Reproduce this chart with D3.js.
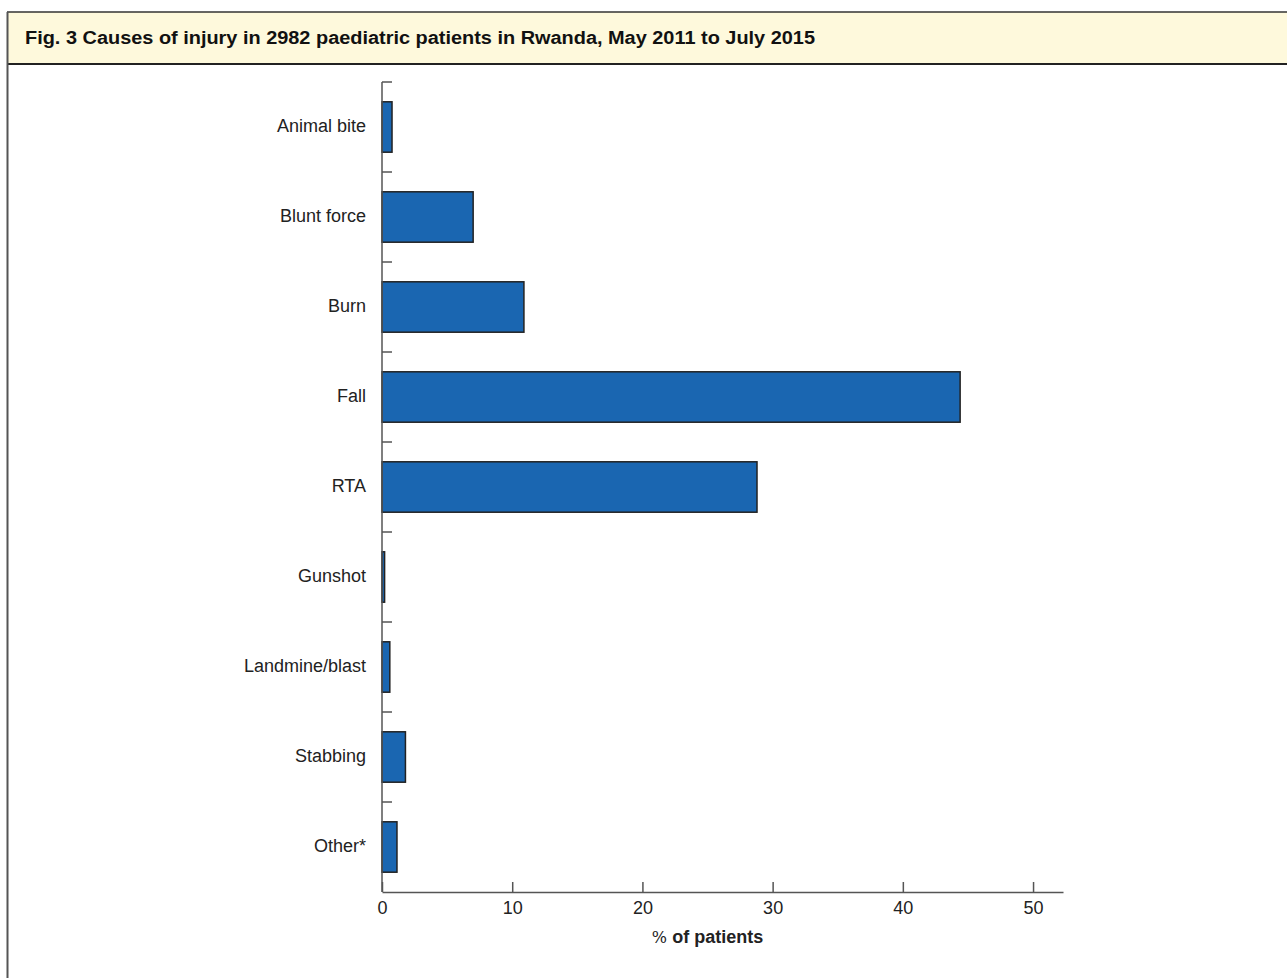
<!DOCTYPE html>
<html>
<head>
<meta charset="utf-8">
<script src="https://cdn.jsdelivr.net/npm/d3@7"></script>
<style>
  html, body { margin: 0; padding: 0; background: #fff; }
  svg { display: block; }
</style>
</head>
<body>
<svg id="chart" width="1287" height="978"></svg>
<script>
const categories = ["Animal bite", "Blunt force", "Burn", "Fall", "RTA", "Gunshot", "Landmine/blast", "Stabbing", "Other*"];
const values = [0.77, 7.0, 10.9, 44.4, 28.8, 0.2, 0.6, 1.8, 1.15];
const xTicks = [0, 10, 20, 30, 40, 50];
const title = "Fig. 3 Causes of injury in 2982 paediatric patients in Rwanda, May 2011 to July 2015";
const xLabel = "of patients";

const svg = d3.select("#chart");
const W = 1287, H = 978;
const FONT = "Liberation Sans, Arial, sans-serif";

// Frame & header
svg.append("rect").attr("x", 7).attr("y", 12).attr("width", W + 10).attr("height", 52)
  .attr("fill", "#fef9dc");
svg.append("line").attr("x1", 7).attr("x2", W).attr("y1", 12).attr("y2", 12)
  .attr("stroke", "#333").attr("stroke-width", 1.5);
svg.append("line").attr("x1", 7).attr("x2", W).attr("y1", 64).attr("y2", 64)
  .attr("stroke", "#222").attr("stroke-width", 2);
svg.append("line").attr("x1", 7.5).attr("x2", 7.5).attr("y1", 12).attr("y2", H)
  .attr("stroke", "#555").attr("stroke-width", 2);
svg.append("text").attr("x", 25).attr("y", 44)
  .attr("font-family", FONT)
  .attr("font-weight", "bold").attr("font-size", 18)
  .attr("fill", "#111")
  .attr("textLength", 790).attr("lengthAdjust", "spacingAndGlyphs")
  .text(title);

const x = d3.scaleLinear().domain([0, 52.3]).range([382, 1063]);
const y = d3.scaleBand().domain(categories).range([82, 892]).paddingInner(0).paddingOuter(0);
const barH = y.bandwidth() * 0.56;

const g = svg.append("g");

// bars
g.selectAll("rect.bar").data(categories).enter().append("rect")
  .attr("class", "bar")
  .attr("x", x(0))
  .attr("y", d => y(d) + (y.bandwidth() - barH) / 2)
  .attr("width", (d, i) => x(values[i]) - x(0))
  .attr("height", barH)
  .attr("fill", "#1a66b1")
  .attr("stroke", "#222")
  .attr("stroke-width", 1.5);

// y axis line & boundary ticks
g.append("line").attr("x1", x(0)).attr("x2", x(0)).attr("y1", 82).attr("y2", 892)
  .attr("stroke", "#555").attr("stroke-width", 1.5);
const boundaries = categories.map(c => y(c));
g.selectAll("line.ytick").data(boundaries).enter().append("line")
  .attr("class", "ytick")
  .attr("x1", x(0)).attr("x2", x(0) + 10)
  .attr("y1", d => d).attr("y2", d => d)
  .attr("stroke", "#555").attr("stroke-width", 1.5);

// y labels
g.selectAll("text.ylab").data(categories).enter().append("text")
  .attr("class", "ylab")
  .attr("x", x(0) - 16)
  .attr("y", d => y(d) + y.bandwidth() / 2 - 1)
  .attr("dy", "0.35em")
  .attr("text-anchor", "end")
  .attr("font-family", FONT)
  .attr("font-size", 18)
  .attr("fill", "#222")
  .text(d => d);

// x axis
const xAxis = d3.axisBottom(x).tickValues(xTicks).tickSize(-10).tickPadding(7).tickSizeOuter(0);
const ax = svg.append("g").attr("transform", "translate(0,892)").call(xAxis);
ax.select(".domain").attr("stroke", "#555").attr("stroke-width", 1.5);
ax.selectAll(".tick line").attr("stroke", "#555").attr("stroke-width", 1.5);
ax.selectAll(".tick text")
  .attr("font-family", FONT)
  .attr("font-size", 18).attr("fill", "#222").attr("dy", "0.85em");

const xl = svg.append("text").attr("x", (x(0) + x(50)) / 2).attr("y", 943)
  .attr("text-anchor", "middle")
  .attr("font-family", FONT)
  .attr("font-size", 18).attr("fill", "#222");
xl.append("tspan").attr("font-family", "DejaVu Serif, serif").attr("font-size", 16).text("% ");
xl.append("tspan").attr("font-weight", "bold").text(xLabel);
</script>
</body>
</html>
